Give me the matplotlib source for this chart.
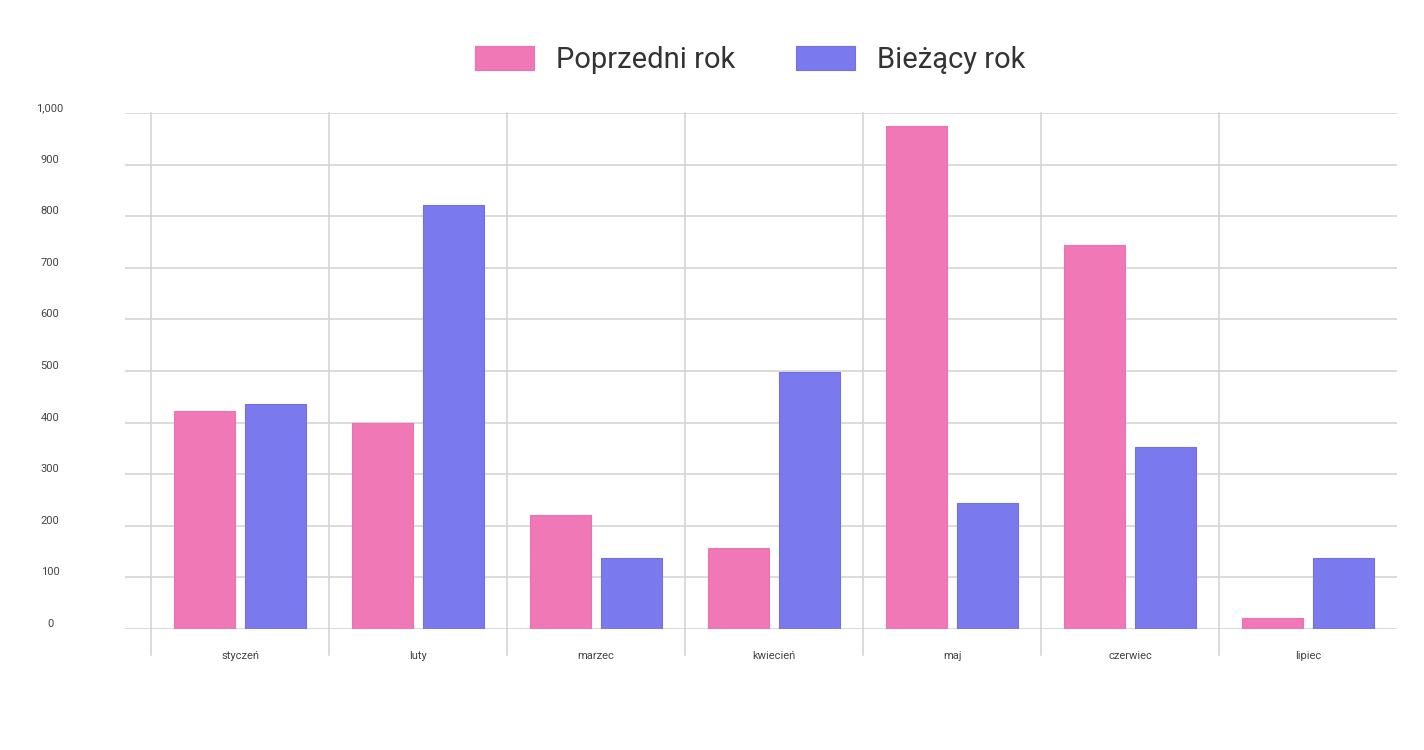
import matplotlib.pyplot as plt
import matplotlib.transforms as mtransforms
import numpy as np

plt.rcParams['font.family'] = ['Roboto', 'DejaVu Sans']

months = ["styczeń", "luty", "marzec", "kwiecień", "maj", "czerwiec", "lipiec"]
prev_year = [422, 399, 221, 157, 975, 744, 22]
curr_year = [436, 822, 138, 498, 244, 353, 137]
yticks = [0, 100, 200, 300, 400, 500, 600, 700, 800, 900, 1000]
ytick_labels = ["0", "100", "200", "300", "400", "500", "600", "700", "800", "900", "1,000"]

pink = "#F178B6"
blue = "#7A79EE"
grid_col = "#D2D2D2"

fig = plt.figure(figsize=(14.24, 7.5), dpi=100)
ax = fig.add_axes([125/1424, 121/750, (1397-125)/1424, 516/750])

x = np.arange(len(months))
w = 0.345
ax.bar(x - 0.2, prev_year, w, color=pink, edgecolor="#EC72B0", linewidth=0.8,
       label="Poprzedni rok", zorder=3)
ax.bar(x + 0.2, curr_year, w, color=blue, edgecolor="#7271E4", linewidth=0.8,
       label="Bieżący rok", zorder=3)

ax.set_xlim(-0.5 - 26/178, len(months) - 0.5)
ax.set_ylim(0, 1000)

# horizontal grid
for t in yticks:
    ax.axhline(t, color=grid_col, linewidth=1.1, zorder=1)
# vertical category separators, reaching below the axis
for b in np.arange(len(months)) - 0.5:
    ax.plot([b, b], [-50, 1000], color=grid_col, linewidth=1.1, zorder=1,
            clip_on=False)

for s in ax.spines.values():
    s.set_visible(False)

ax.set_xticks(x)
ax.set_xticklabels(months, fontsize=8, color="#444444")
ax.tick_params(axis="x", length=0, pad=16)

ax.set_yticks(yticks)
ax.set_yticklabels(ytick_labels, fontsize=8, color="#444444", ha="center")
ax.tick_params(axis="y", length=0, pad=54)
offset = mtransforms.ScaledTranslation(0, 6/100, fig.dpi_scale_trans)
for lab in ax.get_yticklabels():
    lab.set_transform(lab.get_transform() + offset)

fig.legend(loc="center", bbox_to_anchor=(750/1424, 1 - 60/750), ncol=2,
           frameon=False, fontsize=21, handlelength=2.02, handleheight=0.85,
           handletextpad=0.75, columnspacing=2.1, labelcolor="#333333")

fig.savefig("out.png", dpi=100, facecolor="white")
